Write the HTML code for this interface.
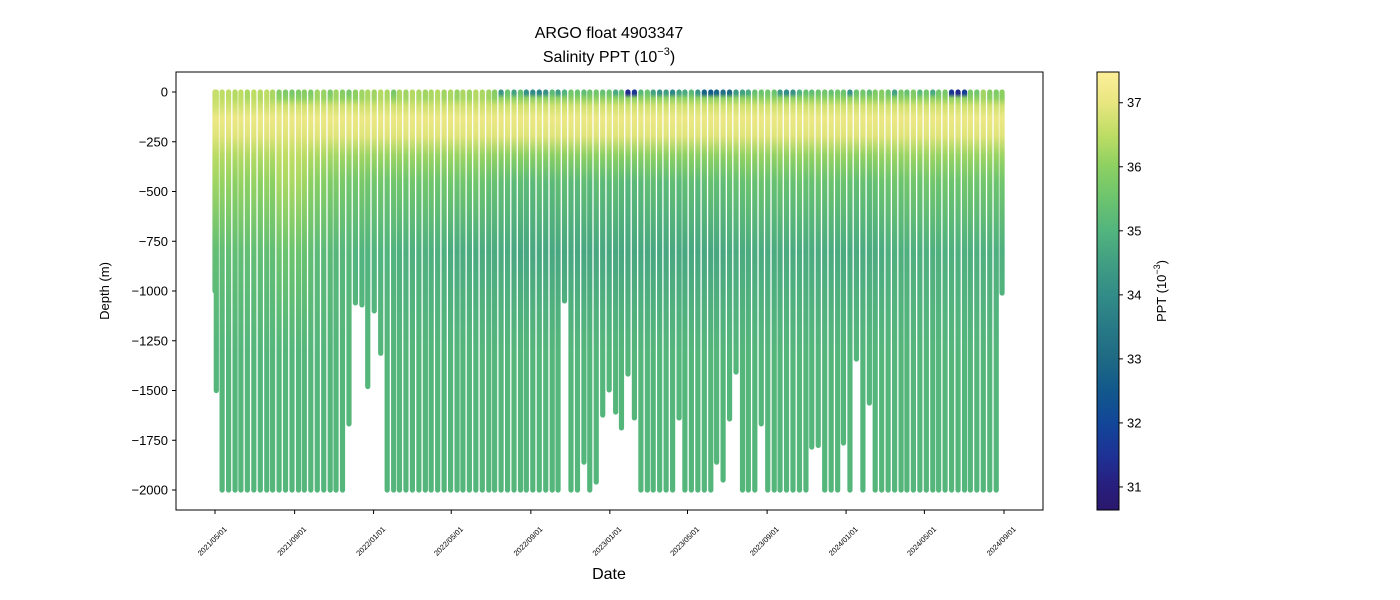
<!DOCTYPE html>
<html><head><meta charset="utf-8"><style>
html,body{margin:0;padding:0;background:#fff;}
svg{display:block;font-family:"Liberation Sans","DejaVu Sans",sans-serif;}
</style></head><body>
<svg id="chart" width="1400" height="600" viewBox="0 0 1400 600" xmlns="http://www.w3.org/2000/svg">
<defs id="defs"></defs>
<text x="609" y="38" font-size="16" text-anchor="middle">ARGO float 4903347</text>
<text x="609" y="62" font-size="16" text-anchor="middle">Salinity PPT (10<tspan font-size="11" dy="-7">−3</tspan><tspan dy="7">)</tspan></text>
<g id="marks"></g>
<rect x="176" y="72" width="867" height="438" fill="none" stroke="#000" stroke-width="1"/>
<g id="yaxis"></g>
<g id="xaxis"></g>
<text transform="translate(109,291) rotate(-90)" font-size="13" text-anchor="middle">Depth (m)</text>
<text x="609" y="579" font-size="16" text-anchor="middle">Date</text>
<g id="cbar"></g>
<text transform="translate(1166,291) rotate(-90)" font-size="13" text-anchor="middle">PPT (10<tspan font-size="9" dy="-6">−3</tspan><tspan dy="6">)</tspan></text>
</svg>
<script>
const days=[0,2,11,21,31,40,50,60,70,80,89,99,109,119,129,138,148,158,168,178,187,197,207,217,227,236,246,256,266,276,285,295,305,315,325,334,344,354,364,374,383,393,403,413,423,432,442,452,462,472,481,491,501,511,521,530,540,550,560,570,579,589,599,609,619,628,638,648,658,668,677,687,697,707,717,726,736,746,756,766,775,785,795,805,815,824,834,844,854,864,873,883,893,903,913,922,932,942,952,962,971,981,991,1001,1011,1020,1030,1040,1050,1060,1069,1079,1089,1099,1109,1118,1128,1138,1148,1158,1167,1177,1187,1197,1207,1216];
const maxDepth=[1000,1500,2000,2000,2000,2000,2000,2000,2000,2000,2000,2000,2000,2000,2000,2000,2000,2000,2000,2000,2000,2000,1668,1060,1070,1480,1100,1313,2000,2000,2000,2000,2000,2000,2000,2000,2000,2000,2000,2000,2000,2000,2000,2000,2000,2000,2000,2000,2000,2000,2000,2000,2000,2000,2000,2000,1050,2000,2000,1860,2000,1960,1623,1497,1608,1688,1417,1638,2000,2000,2000,2000,2000,2000,1638,2000,2000,2000,2000,2000,1860,1950,1643,1407,2000,2000,2000,1668,2000,2000,2000,2000,2000,2000,2000,1784,1776,2000,2000,2000,1764,2000,1342,2000,1563,2000,2000,2000,2000,2000,2000,2000,2000,2000,2000,2000,2000,2000,2000,2000,2000,2000,2000,2000,2000,1010];
const surfSal=[36.6,36.6,36.5,36.5,36.4,36.5,36.3,36.5,36.4,36.5,36.3,35.9,35.8,35.7,35.8,35.9,35.8,36.2,36.1,35.8,36.2,35.9,35.7,36.0,36.2,36.3,36.2,36.4,36.3,35.7,36.3,36.2,36.4,36.3,36.2,36.3,36.4,36.2,36.3,36.1,36.3,36.2,36.4,36.3,36.2,35.9,34.3,35.5,34.6,35.4,34.1,34.0,33.8,34.2,35.2,34.5,35.0,35.6,35.5,35.3,35.5,35.6,35.4,35.5,34.8,35.3,31.3,31.6,35.2,35.5,34.6,34.2,34.5,33.9,34.6,34.8,35.2,34.3,32.8,32.6,32.9,33.2,33.0,34.4,34.6,34.8,35.4,35.5,35.6,35.5,34.4,34.0,34.2,35.0,35.4,35.3,35.5,35.6,35.4,35.6,35.5,34.2,35.5,35.6,35.3,35.8,35.9,35.6,34.6,35.7,35.4,35.8,35.2,35.6,34.8,35.6,35.7,31.6,31.3,31.8,35.7,35.6,36.2,35.9,35.8,36.0];
const s450=[36.2,36.2,36.1,36.1,36.0,36.1,36.0,36.1,36.0,36.1,36.0,36.3,36.3,36.3,36.3,36.2,36.0,35.9,35.9,35.8,35.8,35.7,35.6,35.6,35.7,35.6,35.6,35.6,35.5,35.6,35.6,35.5,35.6,35.5,35.6,35.6,35.5,35.6,35.6,35.5,35.6,35.5,35.6,35.5,35.4,35.4,35.3,35.3,35.2,35.3,35.2,35.2,35.3,35.2,35.2,35.3,35.3,35.2,35.2,35.3,35.2,35.3,35.2,35.2,35.3,35.2,35.1,35.2,35.2,35.3,35.3,35.2,35.2,35.3,35.2,35.3,35.3,35.2,35.3,35.4,35.3,35.3,35.4,35.4,35.4,35.5,35.4,35.5,35.4,35.4,35.5,35.4,35.4,35.5,35.4,35.4,35.5,35.4,35.5,35.4,35.5,35.4,35.3,35.4,35.3,35.4,35.5,35.5,35.6,35.5,35.6,35.6,35.5,35.6,35.6,35.5,35.6,35.5,35.5,35.6,35.6,35.5,35.6,35.6,35.5,35.6];
const s800=[35.3,35.3,35.3,35.3,35.3,35.3,35.3,35.3,35.3,35.3,35.3,35.5,35.5,35.5,35.5,35.4,35.3,35.2,35.2,35.2,35.1,35.1,35.1,35.0,35.0,35.0,35.0,35.0,35.0,35.0,34.9,34.9,34.9,34.9,34.9,34.9,34.9,34.9,34.8,34.8,34.8,34.8,34.8,34.8,34.8,34.8,34.8,34.8,34.7,34.7,34.7,34.7,34.7,34.7,34.7,34.7,34.7,34.7,34.7,34.7,34.7,34.7,34.7,34.7,34.7,34.7,34.7,34.7,34.7,34.7,34.7,34.7,34.7,34.7,34.7,34.7,34.7,34.7,34.7,34.7,34.7,34.7,34.8,34.8,34.8,34.8,34.8,34.8,34.8,34.8,34.8,34.8,34.8,34.8,34.8,34.8,34.8,34.8,34.8,34.8,34.8,34.8,34.8,34.8,34.8,34.8,34.8,34.9,34.9,34.9,34.9,34.9,34.9,34.9,34.9,34.9,34.9,34.9,34.9,34.9,34.9,34.9,34.9,34.9,34.9,34.9];
const peakSal=37.1, deepSal=35.05;
const yTicks=[0,-250,-500,-750,-1000,-1250,-1500,-1750,-2000];
const xTickDays=[0,123,245,365,488,610,730,853,975,1096,1219];
const xTickLabels=["2021/05/01","2021/09/01","2022/01/01","2022/05/01","2022/09/01","2023/01/01","2023/05/01","2023/09/01","2024/01/01","2024/05/01","2024/09/01"];
const cbTicks=[31,32,33,34,35,36,37];
const NS="http://www.w3.org/2000/svg";
const X=d=>215+d*(789/1219);
const Y=v=>92+(-v)*(398/2000);
const CMIN=30.64,CMAX=37.48;
const CY=s=>510-(s-CMIN)/(CMAX-CMIN)*438;
const cmap=[[30.64,[42,24,108]],[31,[40,30,125]],[31.5,[30,50,150]],[32,[18,70,152]],[32.5,[18,88,140]],[33,[30,106,132]],[33.5,[40,122,134]],[34,[50,140,135]],[34.5,[65,158,130]],[35,[82,180,126]],[35.5,[108,196,110]],[36,[140,208,98]],[36.5,[190,221,100]],[37,[232,230,128]],[37.48,[253,238,153]]];
function color(s){s=Math.max(CMIN,Math.min(CMAX,s));for(let k=1;k<cmap.length;k++){if(s<=cmap[k][0]){const a=cmap[k-1],b=cmap[k];const t=(s-a[0])/(b[0]-a[0]);const c=a[1].map((v,j)=>Math.round(v+(b[1][j]-v)*t));return `rgb(${c[0]},${c[1]},${c[2]})`;}}return "rgb(253,238,153)";}
function el(tag,attrs,parent){const e=document.createElementNS(NS,tag);for(const k in attrs)e.setAttribute(k,attrs[k]);parent.appendChild(e);return e;}
const defs=document.getElementById('defs'),marks=document.getElementById('marks');
const n=Math.min(days.length,maxDepth.length);
for(let i=0;i<n;i++){
  const x=X(days[i]);const yb=Y(-maxDepth[i]);
  const g=el('linearGradient',{id:'g'+i,gradientUnits:'userSpaceOnUse',x1:0,x2:0,y1:Y(0),y2:Y(-2000)},defs);
  const ss=surfSal[i];
  const stops=[[0,ss],[8,ss],[30,Math.max(ss,36.0)],[70,36.7],[130,peakSal],[220,36.9],[320,(36.7+s450[i])/2],[450,s450[i]],[800,s800[i]],[1300,deepSal],[2000,deepSal]];
  stops.forEach(st=>el('stop',{offset:st[0]/2000,'stop-color':color(st[1])},g));
  const r=el('rect',{x:x-2.6,y:Y(0)-2.6,width:5.2,height:yb-Y(0)+5.2,rx:2.6,fill:`url(#g${i})`},marks);
  
  
}
const ya=document.getElementById('yaxis');
yTicks.forEach(v=>{const y=Y(v);
  const t=el('line',{x1:172,x2:176,y1:y,y2:y,stroke:'#000'},ya);
  
  
  const l=el('text',{x:168,y:y+4.5,'font-size':13,'text-anchor':'end'},ya);
  
  
  l.textContent=v<0?'−'+(-v):String(v);});
const xa=document.getElementById('xaxis');
xTickDays.forEach((d,k)=>{const x=X(d);
  const t=el('line',{x1:x,x2:x,y1:510,y2:514,stroke:'#000'},xa);
  
  
  const l=el('text',{x:0,y:0,'font-size':7.5,'text-anchor':'middle',transform:`translate(${x-1},${543}) rotate(-45)`},xa);
  
  
  l.textContent=xTickLabels[k];});
const cb=document.getElementById('cbar');
const cg=el('linearGradient',{id:'cbg',x1:0,x2:0,y1:1,y2:0},defs);
cmap.forEach(c=>el('stop',{offset:(c[0]-CMIN)/(CMAX-CMIN),'stop-color':`rgb(${c[1].join(',')})`},cg));
const cr=el('rect',{x:1097,y:72,width:22,height:438,fill:'url(#cbg)',stroke:'#000','stroke-width':1},cb);


cbTicks.forEach(s=>{const y=CY(s);
  const t=el('line',{x1:1119,x2:1123,y1:y,y2:y,stroke:'#000'},cb);
  
  
  const l=el('text',{x:1127,y:y+4.5,'font-size':13},cb);
  
  
  l.textContent=String(s);});
</script>
</body></html>
